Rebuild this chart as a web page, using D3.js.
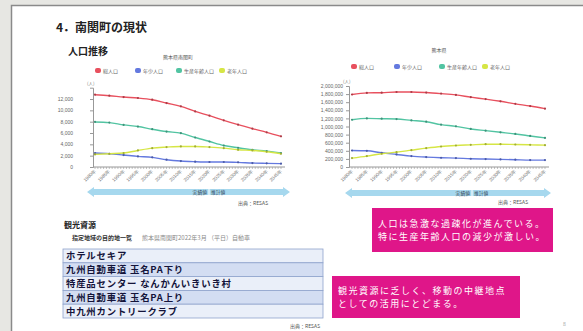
<!DOCTYPE html>
<html>
<head>
<meta charset="utf-8">
<script src="https://cdn.jsdelivr.net/npm/d3@7/dist/d3.min.js"></script>
<style>
  body { margin: 0; background: #e7e7e3; }
  svg { display: block; font-family: "Noto Sans CJK JP", "Noto Sans", sans-serif; }
</style>
</head>
<body>
<script>
// data (RESAS population composition)
var years = [1980, 1985, 1990, 1995, 2000, 2005, 2010, 2015, 2020, 2025, 2030, 2035, 2040, 2045];
var seriesNames = ["総人口", "年少人口", "生産年齢人口", "老年人口"];
var seriesColors = ["#e8505e", "#6479df", "#52c4a2", "#d6e645"];

var nankanTotal = [12760, 12590, 12350, 12180, 11880, 11290, 10710, 9820, 9060, 8240, 7470, 6770, 6120, 5410];
var nankanYoung = [2460, 2340, 2110, 1870, 1700, 1290, 1050, 940, 880, 880, 820, 700, 640, 590];
var nankanWork = [7950, 7840, 7430, 7140, 6670, 6260, 5970, 5210, 4500, 3800, 3390, 3040, 2810, 2460];
var nankanOld = [2220, 2340, 2460, 2920, 3330, 3510, 3630, 3630, 3510, 3330, 3040, 2920, 2690, 2340];

var kumaTotal = [1790000, 1830000, 1835000, 1852000, 1852000, 1838000, 1812000, 1780000, 1725000, 1676000, 1622000, 1560000, 1505000, 1440000];
var kumaYoung = [408000, 400000, 351000, 310000, 269000, 245000, 229000, 220000, 204000, 196000, 188000, 180000, 171000, 171000];
var kumaWork = [1167000, 1200000, 1192000, 1184000, 1151000, 1118000, 1045000, 1004000, 939000, 898000, 857000, 816000, 767000, 718000];
var kumaOld = [220000, 269000, 327000, 367000, 416000, 465000, 506000, 531000, 547000, 563000, 563000, 555000, 547000, 539000];

var nankanTicks = [0, 2000, 4000, 6000, 8000, 10000, 12000];
var kumaTicks = [0, 200000, 400000, 600000, 800000, 1000000, 1200000, 1400000, 1600000, 1800000, 2000000];

var spots = ["ホテルセキア", "九州自動車道 玉名PA下り", "特産品センター なんかんいきいき村", "九州自動車道 玉名PA上り", "中九州カントリークラブ"];

var W = 583, H = 331;
var svg = d3.select("body").append("svg").attr("width", W).attr("height", H);

// slide sheet
svg.append("rect").attr("x", 11.5).attr("y", 5.5).attr("width", W).attr("height", H)
  .attr("fill", "#fff").attr("stroke", "#8a8a8a").attr("stroke-width", 1.5);

svg.append("text").attr("x", 56).attr("y", 32).attr("font-size", 12).attr("font-weight", "bold")
  .attr("fill", "#222").text("4．南関町の現状");
svg.append("text").attr("x", 68).attr("y", 55).attr("font-size", 10).attr("font-weight", "bold")
  .attr("fill", "#222").text("人口推移");

function drawChart(cfg) {
  var g = svg.append("g");
  var x = d3.scaleLinear().domain([1980, 2045]).range(cfg.xRange);
  var y = d3.scaleLinear().domain(cfg.yDomain).range(cfg.yRange);

  g.append("text").attr("x", cfg.titleX).attr("y", cfg.titleY).attr("font-size", 5)
    .attr("fill", "#555").attr("text-anchor", "middle").text(cfg.title);

  // legend
  seriesNames.forEach(function(n, i) {
    var lx = cfg.legendX[i];
    g.append("rect").attr("x", lx - 3).attr("y", cfg.legendY - 3).attr("width", 6).attr("height", 5)
      .attr("rx", 2).attr("fill", seriesColors[i]);
    g.append("text").attr("x", lx + 5).attr("y", cfg.legendY + 1.8).attr("font-size", 5)
      .attr("fill", "#666").text(n);
  });

  var axisX = cfg.xRange[0] - cfg.axisGap;
  // y axis
  var yAxis = d3.axisLeft(y).tickValues(cfg.ticks).tickSize(3).tickFormat(d3.format(","));
  var ya = g.append("g").attr("transform", "translate(" + axisX + ",0)").call(yAxis);
  ya.select(".domain").attr("stroke", "#999");
  ya.selectAll(".tick line").attr("stroke", "#999");
  ya.selectAll(".tick text").attr("font-size", 5).attr("fill", "#666").attr("x", -cfg.labelGap)
    .attr("font-family", "Liberation Sans, sans-serif");
  g.append("text").attr("x", axisX - 6).attr("y", cfg.yRange[1] - 3).attr("font-size", 4.5)
    .attr("fill", "#777").text("(人)");

  // x axis with yearly minor ticks
  var base = y(0);
  g.append("line").attr("x1", axisX).attr("x2", cfg.xRange[1] + 4).attr("y1", base).attr("y2", base)
    .attr("stroke", "#999");
  g.selectAll(".minor").data(d3.range(1980, 2046)).enter().append("line")
    .attr("x1", function(d) { return x(d); }).attr("x2", function(d) { return x(d); })
    .attr("y1", base).attr("y2", base + 2).attr("stroke", "#999").attr("stroke-width", 0.6);
  g.selectAll(".yr").data(years).enter().append("text")
    .attr("transform", function(d) { return "translate(" + (x(d) + 1.5) + "," + (base + 4) + ") rotate(-45)"; })
    .attr("text-anchor", "end").attr("font-size", 4.8).attr("fill", "#777")
    .attr("font-family", "Liberation Sans, sans-serif")
    .text(function(d) { return d + "年"; });

  var line = d3.line().x(function(d, i) { return x(years[i]); }).y(function(d) { return y(d); })
    .curve(d3.curveMonotoneX);
  cfg.series.forEach(function(vals, si) {
    g.append("path").datum(vals).attr("d", line).attr("fill", "none")
      .attr("stroke", seriesColors[si]).attr("stroke-width", 1.4);
    g.selectAll(".pt" + si).data(vals).enter().append("circle")
      .attr("cx", function(d, i) { return x(years[i]); }).attr("cy", function(d) { return y(d); })
      .attr("r", 1.1).attr("fill", d3.color(seriesColors[si]).darker(0.8));
  });

  // 実績値 / 推計値 arrow band
  var a0 = cfg.arrow[0], a1 = cfg.arrow[1], cy = cfg.arrowY;
  var pts = [[a0, cy], [a0 + 7, cy - 5], [a0 + 7, cy - 3], [a1 - 7, cy - 3], [a1 - 7, cy - 5], [a1, cy],
             [a1 - 7, cy + 5], [a1 - 7, cy + 3], [a0 + 7, cy + 3], [a0 + 7, cy + 5]];
  g.append("polygon").attr("points", pts.map(function(p) { return p.join(","); }).join(" "))
    .attr("fill", "#a6d8ee");
  g.append("line").attr("x1", cfg.split).attr("x2", cfg.split).attr("y1", cy - 3).attr("y2", cy + 3)
    .attr("stroke", "#fff").attr("stroke-width", 1);
  g.append("text").attr("x", cfg.split - 2).attr("y", cy + 1.8).attr("text-anchor", "end")
    .attr("font-size", 4.8).attr("fill", "#345").text("実績値");
  g.append("text").attr("x", cfg.split + 2).attr("y", cy + 1.8)
    .attr("font-size", 4.8).attr("fill", "#345").text("推計値");
  g.append("text").attr("x", cfg.srcX).attr("y", cfg.srcY).attr("font-size", 5)
    .attr("fill", "#555").text("出典：RESAS");
}

drawChart({
  title: "熊本県南関町", titleX: 178, titleY: 59,
  legendX: [98, 138, 179, 222], legendY: 71,
  xRange: [95, 281], yRange: [167, 87.7], yDomain: [0, 14000], ticks: nankanTicks,
  axisGap: 2, labelGap: 20,
  series: [nankanTotal, nankanYoung, nankanWork, nankanOld],
  arrow: [87, 290], arrowY: 192, split: 209, srcX: 238, srcY: 205
});

drawChart({
  title: "熊本県", titleX: 439, titleY: 52,
  legendX: [354, 397, 442, 485], legendY: 67,
  xRange: [352, 545], yRange: [167, 86], yDomain: [0, 2000000], ticks: kumaTicks,
  axisGap: 3, labelGap: 6,
  series: [kumaTotal, kumaYoung, kumaWork, kumaOld],
  arrow: [345, 551], arrowY: 193, split: 472, srcX: 498, srcY: 204
});

// 観光資源 table
svg.append("text").attr("x", 64).attr("y", 228).attr("font-size", 8).attr("font-weight", "bold")
  .attr("fill", "#222").text("観光資源");
svg.append("text").attr("x", 72).attr("y", 240).attr("font-size", 6).attr("font-weight", "bold")
  .attr("fill", "#333").text("指定地域の目的地一覧");
svg.append("text").attr("x", 142).attr("y", 240).attr("font-size", 6)
  .attr("fill", "#888").text("熊本県南関町2022年3月 （平日）自動車");

var rowY = d3.scaleBand().domain(d3.range(spots.length)).range([249, 318]);
var tbl = svg.append("g");
tbl.selectAll("rect").data(spots).enter().append("rect")
  .attr("x", 63).attr("y", function(d, i) { return rowY(i); })
  .attr("width", 260).attr("height", rowY.bandwidth())
  .attr("fill", function(d, i) { return i % 2 ? "#d3ddf2" : "#eaeff9"; })
  .attr("stroke", "#8fa3cc").attr("stroke-width", 0.8);
tbl.selectAll("text").data(spots).enter().append("text")
  .attr("x", 66).attr("y", function(d, i) { return rowY(i) + rowY.bandwidth() / 2 + 3.4; })
  .attr("font-size", 9.4).attr("font-weight", "bold").attr("fill", "#14143a")
  .attr("letter-spacing", 0.8)
  .text(function(d) { return d; });
svg.append("text").attr("x", 290).attr("y", 328).attr("font-size", 5).attr("fill", "#555").text("出典：RESAS");

// comment boxes
function noteBox(x0, y0, w, h, lines, tx, ty) {
  svg.append("rect").attr("x", x0).attr("y", y0).attr("width", w).attr("height", h).attr("fill", "#df1689");
  lines.forEach(function(t, i) {
    svg.append("text").attr("x", tx).attr("y", ty + i * 13.2).attr("font-size", 9)
      .attr("letter-spacing", 1.5).attr("fill", "#fff").text(t);
  });
}
noteBox(372, 208, 181, 44, ["人口は急激な過疎化が進んでいる。", "特に生産年齢人口の減少が激しい。"], 378, 227);
noteBox(332, 276, 188, 42, ["観光資源に乏しく、移動の中継地点", "としての活用にとどまる。"], 338, 294);

svg.append("text").attr("x", 563).attr("y", 326).attr("font-size", 5).attr("fill", "#999").text("8");
</script>
</body>
</html>
